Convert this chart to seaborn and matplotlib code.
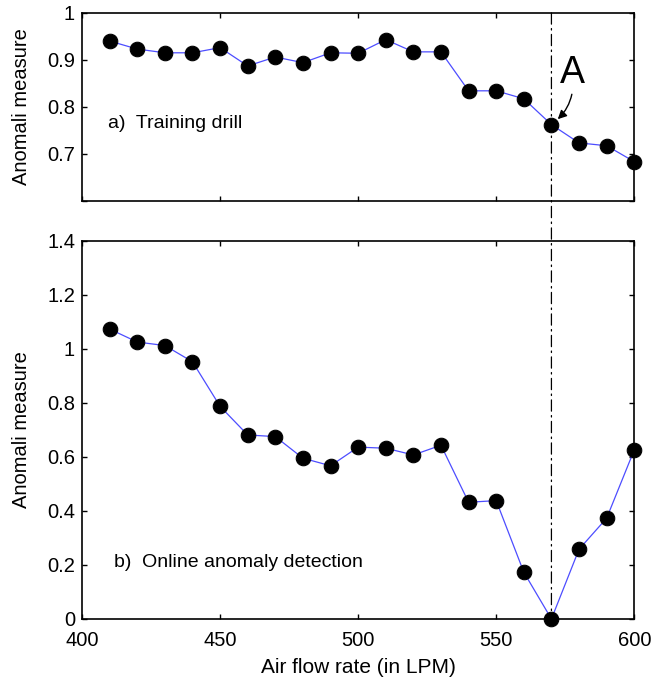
import matplotlib
matplotlib.use("Agg")
import matplotlib.pyplot as plt
from matplotlib.patches import ConnectionPatch
import seaborn as sns
import pandas as pd

# Air flow rates (LPM) and anomaly measures for both experiments
flow_rate = [410, 420, 430, 440, 450, 460, 470, 480, 490, 500,
             510, 520, 530, 540, 550, 560, 570, 580, 590, 600]
training_drill = [0.940, 0.923, 0.915, 0.915, 0.926, 0.887, 0.906, 0.894, 0.915, 0.914,
                  0.943, 0.917, 0.917, 0.834, 0.834, 0.817, 0.762, 0.723, 0.717, 0.683]
online_detection = [1.073, 1.025, 1.012, 0.952, 0.787, 0.681, 0.675, 0.595, 0.567, 0.636,
                    0.632, 0.607, 0.643, 0.432, 0.438, 0.173, 0.0, 0.258, 0.373, 0.626]
x_ticks = [400, 450, 500, 550, 600]
top_yticks = [0.6, 0.7, 0.8, 0.9, 1.0]
top_yticklabels = ["", "0.7", "0.8", "0.9", "1"]
bottom_yticks = [0, 0.2, 0.4, 0.6, 0.8, 1.0, 1.2, 1.4]
bottom_yticklabels = ["0", "0.2", "0.4", "0.6", "0.8", "1", "1.2", "1.4"]
marked_rate = 570

sns.set_style("ticks")
plt.rcParams["font.family"] = ["Liberation Sans", "DejaVu Sans"]
plt.rcParams.update({
    "xtick.direction": "in", "ytick.direction": "in",
    "xtick.top": True, "ytick.right": True,
    "xtick.major.size": 3.5, "ytick.major.size": 3.5,
    "xtick.major.width": 1.0, "ytick.major.width": 1.0,
    "axes.linewidth": 1.2, "axes.edgecolor": "black",
    "xtick.color": "black", "ytick.color": "black",
    "text.color": "black", "axes.labelcolor": "black",
    "xtick.labelsize": 14.5, "ytick.labelsize": 14.5,
    "xtick.major.pad": 9, "ytick.major.pad": 5,
})

df = pd.DataFrame({"flow": flow_rate, "train": training_drill, "online": online_detection})

fig = plt.figure(figsize=(6.52, 6.79), dpi=100)
ax1 = fig.add_axes([0.1258, 0.7045, 0.847, 0.2765])
ax2 = fig.add_axes([0.1258, 0.0884, 0.847, 0.5571])

line_kw = dict(color="#4d4dff", linewidth=0.9, marker="o", markersize=10.5,
               markerfacecolor="black", markeredgecolor="black")

sns.lineplot(data=df, x="flow", y="train", ax=ax1, **line_kw)
sns.lineplot(data=df, x="flow", y="online", ax=ax2, **line_kw)

for ax in (ax1, ax2):
    ax.set_xlim(400, 600)
    ax.set_xticks(x_ticks)
    ax.set_ylabel("Anomali measure", fontsize=14.5, color="black")
    ax.set_xlabel("")
    ax.patch.set_alpha(0)
    for s in ax.spines.values():
        s.set_visible(True)

ax1.set_ylim(0.6, 1.0)
ax1.set_yticks(top_yticks)
ax1.set_yticklabels(top_yticklabels)
ax1.tick_params(axis="x", which="both", labelbottom=False)

ax2.set_ylim(0, 1.4)
ax2.set_yticks(bottom_yticks)
ax2.set_yticklabels(bottom_yticklabels)
ax2.set_xlabel("Air flow rate (in LPM)", fontsize=15, color="black")
ax2.xaxis.set_label_coords(0.5, -0.102)

for ax in (ax1, ax2):
    for ln in ax.lines:
        ln.set_clip_on(False)
    ax.yaxis.set_label_coords(-0.092, 0.5)

ax1.text(409.5, 0.764, "a)  Training drill", fontsize=14, va="center", ha="left",
         color="black")
ax2.text(411.5, 0.21, "b)  Online anomaly detection", fontsize=14, va="center",
         ha="left", color="black")

# Point A marked in the training drill, with its curved pointer
idx = flow_rate.index(marked_rate)
ax1.annotate("A", xy=(marked_rate, training_drill[idx]),
             xytext=(577.5, 0.872), fontsize=27, ha="center", va="center",
             color="black",
             arrowprops=dict(arrowstyle="-|>", color="black", lw=1.0,
                             shrinkA=0, shrinkB=6, mutation_scale=13,
                             connectionstyle="arc3,rad=-0.3"))

# Vertical dash-dot marker running through both panels
con = ConnectionPatch(xyA=(marked_rate, 1.0), coordsA=ax1.transData,
                      xyB=(marked_rate, 0.0), coordsB=ax2.transData,
                      color="black", linestyle=(0, (9, 3.5, 1.2, 3.5)),
                      linewidth=0.9, zorder=0.5)
fig.add_artist(con)

fig.savefig("out.png", dpi=100)
